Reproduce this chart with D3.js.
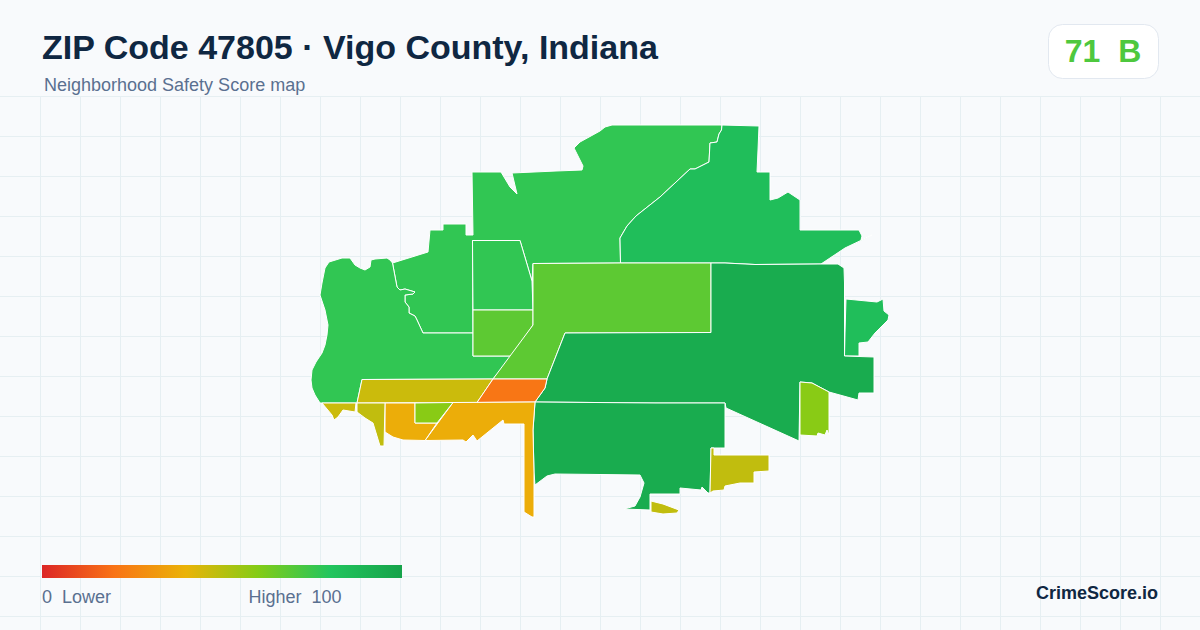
<!DOCTYPE html>
<html lang="en">
<head>
<meta charset="UTF-8">
<title>ZIP Code 47805 map</title>
<script src="https://d3js.org/d3.v7.min.js"></script>
<style>
  html, body { margin: 0; padding: 0; background: #f8fafc; }
  svg { display: block; }
  text { font-family: "Liberation Sans", Arial, sans-serif; white-space: pre; }
  .zone { stroke: #fff; stroke-width: 1px; stroke-linejoin: round; }
  .grid { stroke: #e6eff2; stroke-width: 1px; }
</style>
</head>
<body>
<svg id="chart" width="1200" height="630"></svg>
<script>
// scores
const zoneNames = ["north", "westLobe", "block", "northEast", "east", "blockSouth", "central", "bigEast", "south",
  "strip", "orange", "amberSouth", "amberWest", "lime", "olivePoint", "oliveLeft", "limeEast", "oliveSouth", "oliveSmall"];
const zoneScores = [77, 77, 77, 84, 84, 68, 68, 95, 95, 46, 21, 38, 38, 59, 48, 46, 59, 48, 48];

// outlines in map units
const zoneRings = [
  [[472,172],[501,172],[510,187],[517,194],[512,173],[556,171],[582,170],[583,166],[574,148],[580,142],[600,131],[605,127],[612,125],[722,125],[721.5,130],[719,134],[717,142],[710,143],[709,162],[695,169],[690,169],[660,197],[636,216],[627,226],[620,238],[620.5,263],[533,263.5],[532,281],[520,240.5],[472.5,240.5],[473,333],[423,333],[417,320],[415,316],[409,313],[409,307],[405,302],[405,295],[413,294],[415,292],[405,289],[400,290],[397,287],[392.5,263],[428,252],[430,230],[443,230],[443,224],[466,224],[466,235],[473,235]],
  [[392.5,263],[397,287],[400,290],[405,289],[415,292],[413,294],[405,295],[405,302],[409,307],[409,313],[415,316],[417,320],[423,333],[473,333],[473,356],[512,356],[493,379],[362,379.5],[357,403],[320,403],[315,395],[312,388],[311,380],[312,370],[316,362],[322,353],[325,345],[327,335],[328,325],[325,310],[320,295],[322,283],[325,268],[329,262],[342,258],[350,258],[355,265],[360,268],[365,270],[370,267],[371,260],[375,259],[387,258],[390,260]],
  [[472.5,240.5],[520,240.5],[532,281],[533,310],[473,310]],
  [[722,125],[759,126],[758,150],[757,172],[770,172],[770,200],[778,198],[788,192],[800,200],[800,230],[859,230],[862,236],[861,240],[872,235],[861,240.4],[845,248],[821,264],[755,264.5],[725,263],[711,263],[620.5,263],[620,238],[627,226],[636,216],[660,197],[690,169],[695,169],[709,162],[710,143],[717,142],[719,134],[721.5,130]],
  [[846,299],[877,302],[883,299],[884,311],[889,315],[888,320],[875,333],[868,342],[859,343],[859,356],[844.5,356],[845,333]],
  [[473,310],[533,310],[533,325],[512,356],[473,356]],
  [[533,263.5],[620.5,263],[711,263],[711,332.5],[565,333],[547,379],[493,379],[533,325]],
  [[711,263],[725,263],[755,264.5],[821,264],[838,264],[844,268],[844.5,283],[844.5,356],[874,357],[874,393],[859,393],[858,400],[829,392],[812,383],[800,382],[799,441],[726,408],[725,403],[655,403],[535,402],[545,388],[547,379],[565,333],[711,332.5]],
  [[535,402],[655,403],[725,403],[725,448],[711,448],[710,493],[708,493],[702,487],[701,490],[680,488],[680,494],[650,494],[650,510],[624,509],[635,506],[640,497],[644,483],[640,475],[600,474.5],[555,474],[547,476],[535,485],[534,473],[533,430]],
  [[362,379.5],[493,379],[477,402.5],[357,403]],
  [[493,379],[547,379],[545,388],[535,402],[477,402.5]],
  [[453,402.5],[535,402],[533,430],[534,473],[534,517],[532,517],[524,512],[524,424],[504,424],[503,420],[477,441],[473,435],[466,442],[463,440],[425,440.5]],
  [[385,403],[415,403],[415,423],[437,423],[425,440.5],[403,440],[393,437],[385,432]],
  [[415,403],[453,402.5],[437,423],[415,423]],
  [[357,403],[385,403],[384,446],[380,446],[373,423],[365,418],[357,412]],
  [[322,403],[356,403],[355,412],[343,410],[338,417],[334,420],[332,415]],
  [[800,382],[812,383],[829,392],[829,435],[827,430],[825,435],[818,433],[817,436],[800,435]],
  [[711,448],[714,448],[714,455],[769,455],[769,471],[754,472],[754,483],[740,483],[725,486],[724,490],[713,491],[710,493]],
  [[651,501],[663,504],[679,510],[677,513],[663,514],[651,512]]
];

const legendStops = [0, 20, 40, 60, 80, 100];
const legendColors = ["#dc2626", "#f97316", "#eab308", "#84cc16", "#22c55e", "#16a34a"];

const titleText = "ZIP Code 47805 \u00b7 Vigo County, Indiana";
const subtitleText = "Neighborhood Safety Score map";
const badgeText = "71  B";
const brandText = "CrimeScore.io";

const width = 1200, height = 630;
const svg = d3.select("#chart");

const color = d3.scaleLinear().domain(legendStops).range(legendColors);
const x = d3.scaleLinear().domain([0, 1200]).range([0, width]);
const y = d3.scaleLinear().domain([0, 630]).range([0, height]);

// grid
const grid = svg.append("g");
grid.selectAll("line.v").data(d3.range(40, width, 40)).join("line")
  .attr("class", "grid")
  .attr("x1", d => d + 0.5).attr("x2", d => d + 0.5)
  .attr("y1", 96).attr("y2", height);
grid.selectAll("line.h").data(d3.range(96, height, 40)).join("line")
  .attr("class", "grid")
  .attr("x1", 0).attr("x2", width)
  .attr("y1", d => d + 0.5).attr("y2", d => d + 0.5);

// map
const line = d3.line().x(d => x(d[0])).y(d => y(d[1])).curve(d3.curveLinearClosed);
svg.append("g").selectAll("path")
  .data(zoneRings)
  .join("path")
  .attr("class", "zone")
  .attr("data-zone", (d, i) => zoneNames[i])
  .attr("fill", (d, i) => color(zoneScores[i]))
  .attr("d", line);

// header
svg.append("text").attr("x", 42).attr("y", 59)
  .attr("font-size", 34).attr("font-weight", 700).attr("fill", "#0f2742")
  .text(titleText);
svg.append("text").attr("x", 44).attr("y", 91)
  .attr("font-size", 18).attr("fill", "#5a7090")
  .text(subtitleText);

// score badge
svg.append("rect").attr("x", 1048.5).attr("y", 24.5).attr("width", 110).attr("height", 54)
  .attr("rx", 14).attr("fill", "#fff").attr("stroke", "#e2e8f0");
svg.append("text").attr("x", 1103).attr("y", 62).attr("text-anchor", "middle")
  .attr("font-size", 32).attr("font-weight", 700).attr("fill", color(71))
  .text(badgeText);

// legend
const legendX = d3.scaleLinear().domain([0, 100]).range([42, 402]);
const grad = svg.append("defs").append("linearGradient").attr("id", "legendGrad");
grad.selectAll("stop").data(legendStops).join("stop")
  .attr("offset", d => d + "%")
  .attr("stop-color", (d, i) => legendColors[i]);
svg.append("rect").attr("x", legendX(0)).attr("y", 565)
  .attr("width", legendX(100) - legendX(0)).attr("height", 13)
  .attr("fill", "url(#legendGrad)");
svg.append("text").attr("x", 42).attr("y", 603)
  .attr("font-size", 18).attr("fill", "#5a7090").text("0  Lower");
svg.append("text").attr("x", 341.5).attr("y", 603).attr("text-anchor", "end")
  .attr("font-size", 18).attr("fill", "#5a7090").text("Higher  100");

svg.append("text").attr("x", 1158).attr("y", 599).attr("text-anchor", "end")
  .attr("font-size", 18).attr("font-weight", 700).attr("fill", "#0f2742")
  .text(brandText);
</script>
</body>
</html>
